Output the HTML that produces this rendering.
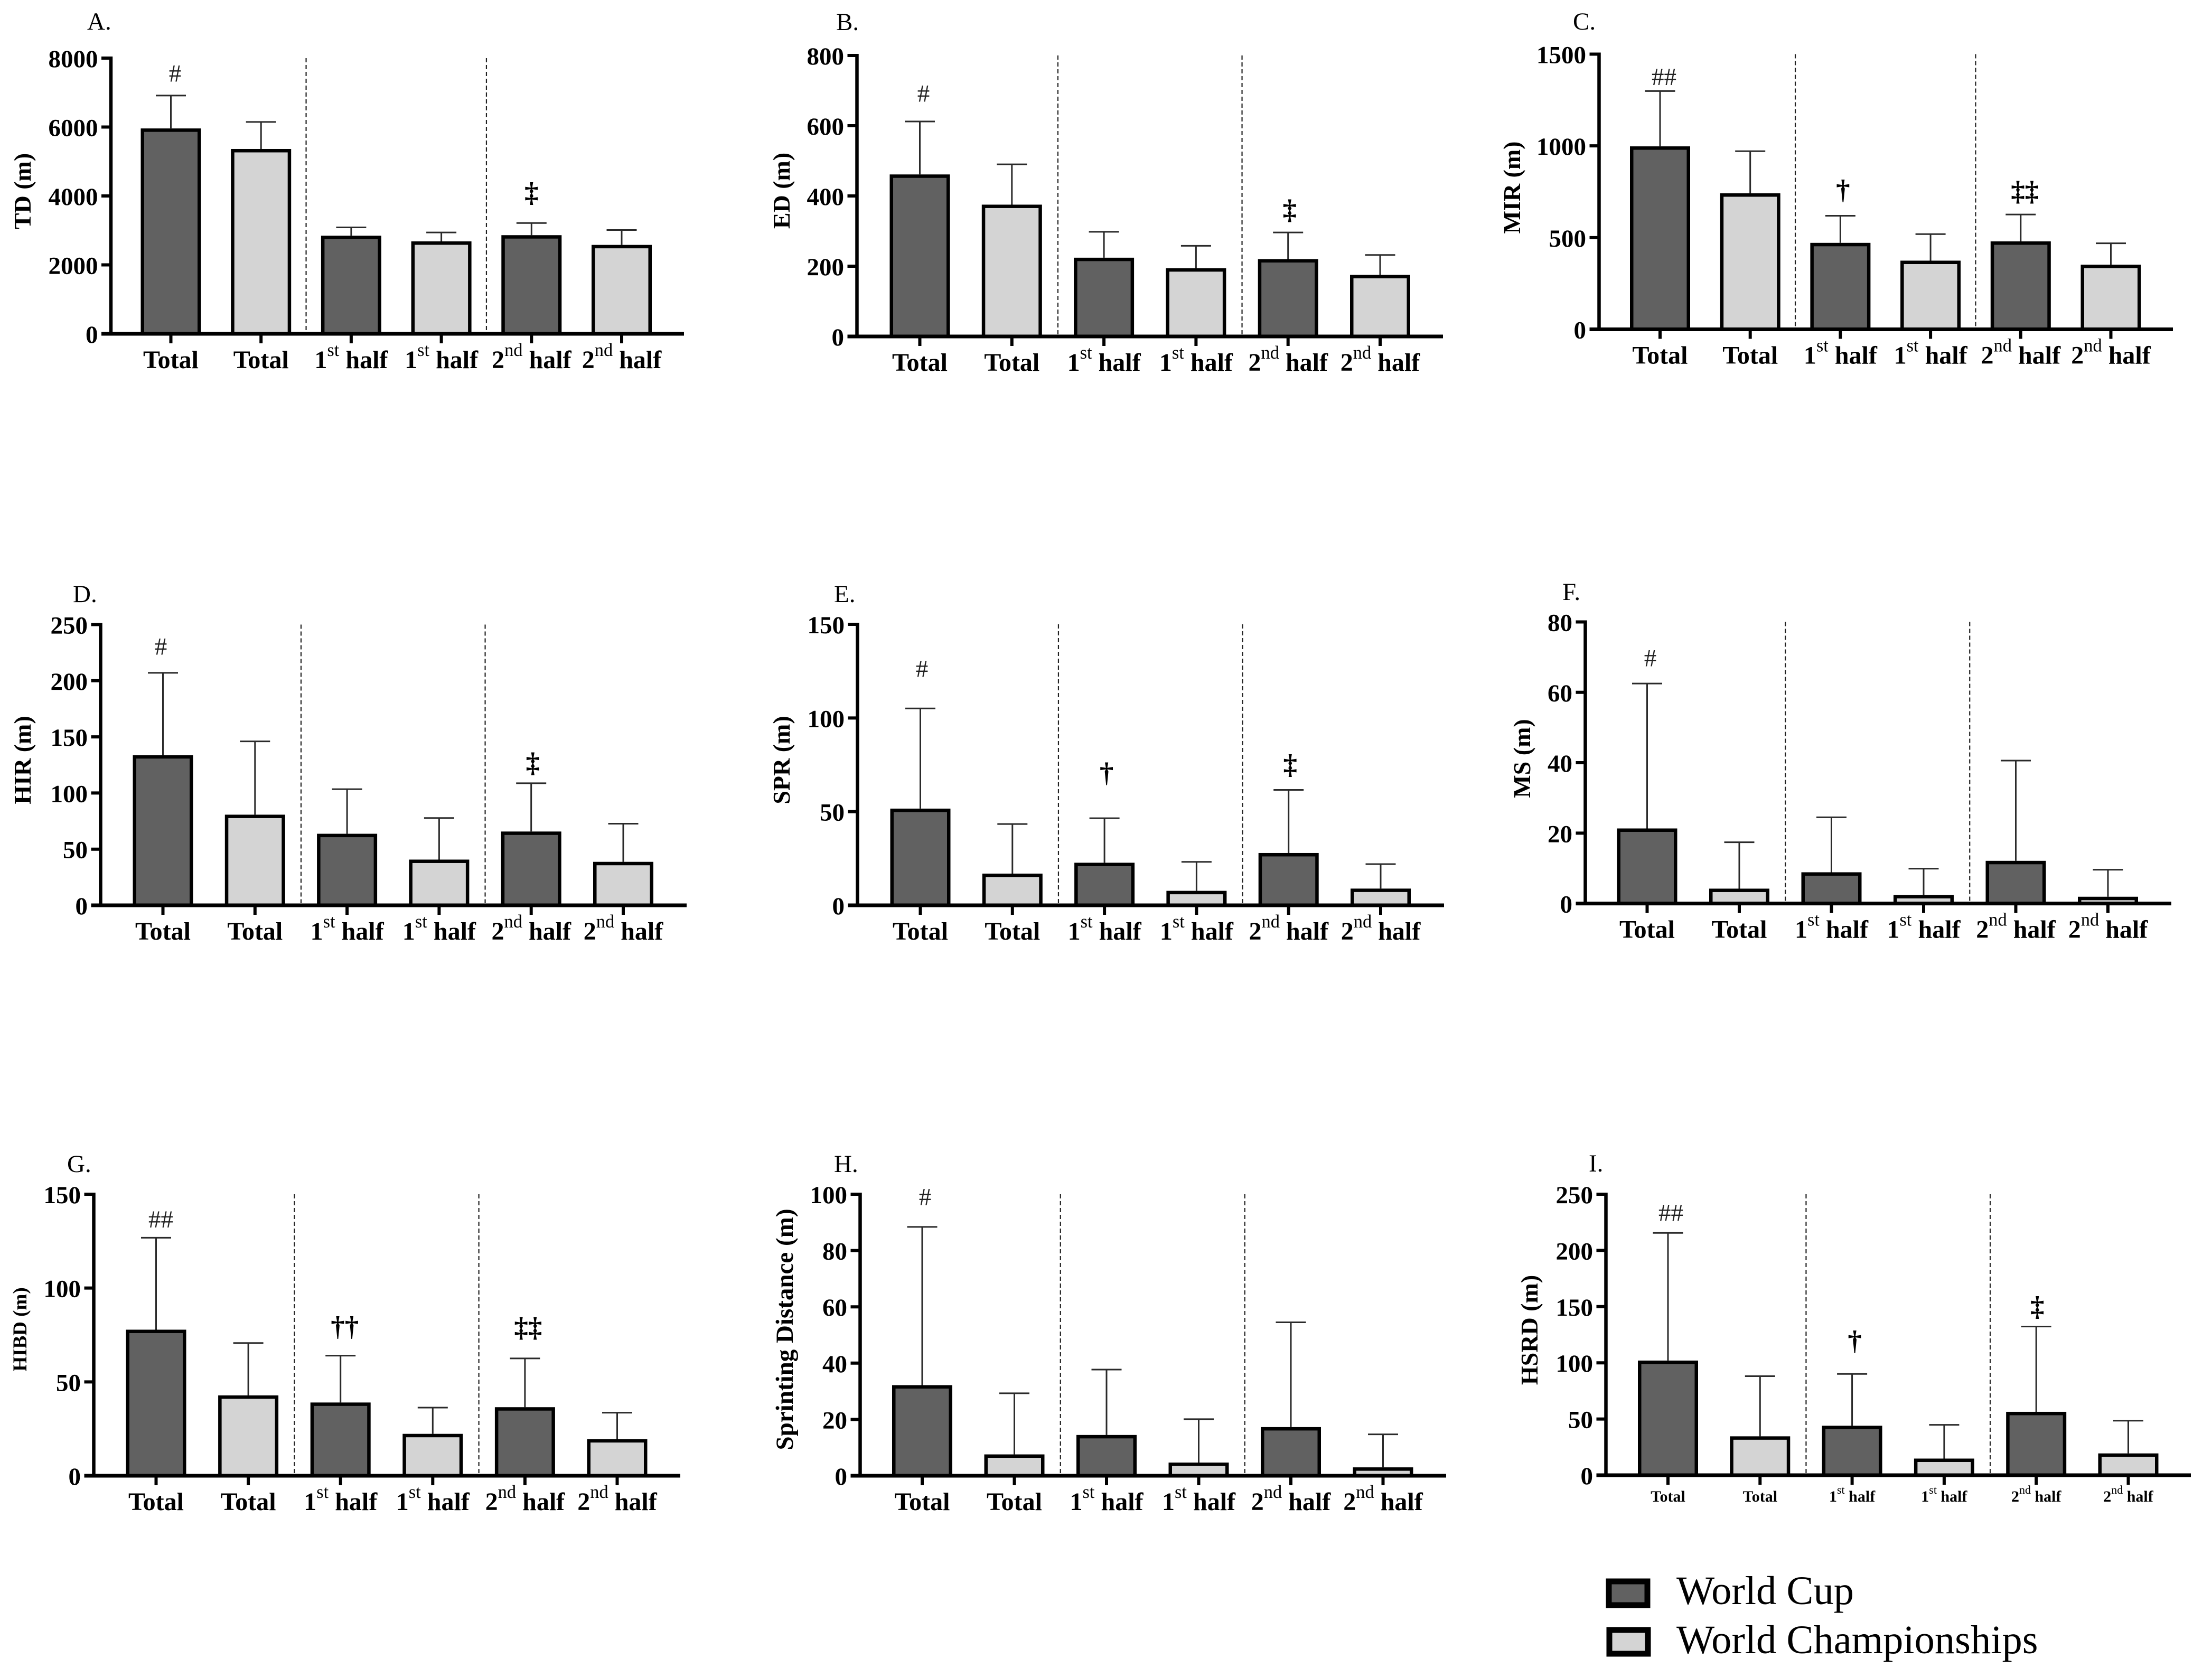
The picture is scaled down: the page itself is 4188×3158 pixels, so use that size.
<!DOCTYPE html>
<html lang="en">
<head>
<meta charset="utf-8">
<title>World Cup vs World Championships physical performance</title>
<style>
html,body{margin:0;padding:0;background:#fff;}
svg{display:block;}
text{font-family:"Liberation Serif",serif;fill:#000;}
</style>
</head>
<body>
<svg id="figure" xmlns="http://www.w3.org/2000/svg" width="4188" height="3158" viewBox="0 0 4188 3158">
  <rect width="4188" height="3158" fill="#fff"/>
  <g>
    <rect x="3046" y="2994" width="73" height="45" fill="#616161" stroke="#000" stroke-width="11"/>
    <text x="3174" y="3037" font-size="76.5">World Cup</text>
    <rect x="3047" y="3086" width="73" height="45" fill="#d4d4d4" stroke="#000" stroke-width="11"/>
    <text x="3174" y="3130" font-size="76.5">World Championships</text>
  </g>
</svg>
<script>
const categories = ['Total', 'Total', '1st half', '1st half', '2nd half', '2nd half'];

const tdValues = [5936, 5341, 2823, 2659, 2839, 2557];
const tdErrorTops = [6913, 6147, 3089, 2940, 3214, 3011];
const tdTicks = [0, 2000, 4000, 6000, 8000];

const edValues = [459, 373, 222, 192, 218, 173];
const edErrorTops = [612, 490, 298, 258, 296, 232];
const edTicks = [0, 200, 400, 600, 800];

const mirValues = [993, 737, 467, 370, 475, 348];
const mirErrorTops = [1299, 971, 619, 519, 626, 469];
const mirTicks = [0, 500, 1000, 1500];

const hirValues = [133, 80, 63, 40, 65, 38];
const hirErrorTops = [207, 146, 103.4, 77.7, 108.7, 72.7];
const hirTicks = [0, 50, 100, 150, 200, 250];

const sprValues = [51.2, 16.5, 22.3, 7.3, 27.5, 8.5];
const sprErrorTops = [105.1, 43.4, 46.5, 23.2, 61.6, 22];
const sprTicks = [0, 50, 100, 150];

const msValues = [21.1, 4, 8.65, 2.2, 11.9, 1.7];
const msErrorTops = [62.5, 17.4, 24.5, 9.9, 40.6, 9.6];
const msTicks = [0, 20, 40, 60, 80];

const hibdValues = [77.4, 42.4, 38.6, 21.9, 36.1, 19.1];
const hibdErrorTops = [126.8, 70.7, 64, 36.3, 62.5, 33.6];
const hibdTicks = [0, 50, 100, 150];

const sprintValues = [31.9, 7.3, 14.2, 4.4, 17, 2.7];
const sprintErrorTops = [88.4, 29.3, 37.7, 20.1, 54.5, 14.7];
const sprintTicks = [0, 20, 40, 60, 80, 100];

const hsrdValues = [101.3, 33.9, 43.3, 14.1, 55.7, 18.7];
const hsrdErrorTops = [215.6, 88.1, 90.1, 44.8, 132.3, 48.5];
const hsrdTicks = [0, 50, 100, 150, 200, 250];

const barFills = ['#616161', '#d4d4d4'];

const panels = [
  {id:'a', letter:'A.', title:'TD (m)', values:tdValues, errs:tdErrorTops, ticks:tdTicks,
   ax:210, top:110, base:632, x0:323.5, step:170.7, end:1295, lx:165, ly:56, tx:58, ty:362, tf:46,
   notes:[{i:0,s:'#',dx:8,gap:42},{i:4,s:'‡',dx:0,gap:55}]},
  {id:'b', letter:'B.', title:'ED (m)', values:edValues, errs:edErrorTops, ticks:edTicks,
   ax:1622.5, top:105, base:637, x0:1741.5, step:174.3, end:2732, lx:1583, ly:57, tx:1495, ty:361, tf:46,
   notes:[{i:0,s:'#',dx:7,gap:53},{i:4,s:'‡',dx:3,gap:40}]},
  {id:'c', letter:'C.', title:'MIR (m)', values:mirValues, errs:mirErrorTops, ticks:mirTicks,
   ax:3027.5, top:102.5, base:623.5, x0:3143, step:170.7, end:4114, lx:2978, ly:56, tx:2878, ty:355, tf:46,
   notes:[{i:0,s:'##',dx:7.5,gap:27},{i:2,s:'†',dx:5,gap:46},{i:4,s:'‡‡',dx:8,gap:41}]},
  {id:'d', letter:'D.', title:'HIR (m)', values:hirValues, errs:hirErrorTops, ticks:hirTicks,
   ax:190.5, top:1182.5, base:1714, x0:308.5, step:174.3, end:1300, lx:138, ly:1140, tx:58, ty:1439, tf:46,
   notes:[{i:0,s:'#',dx:-4,gap:50},{i:4,s:'‡',dx:3,gap:36}]},
  {id:'e', letter:'E.', title:'SPR (m)', values:sprValues, errs:sprErrorTops, ticks:sprTicks,
   ax:1623.5, top:1182, base:1714, x0:1742.5, step:174.3, end:2734, lx:1579, ly:1140, tx:1495, ty:1439, tf:46,
   notes:[{i:0,s:'#',dx:3,gap:75},{i:2,s:'†',dx:4,gap:83},{i:4,s:'‡',dx:3,gap:45}]},
  {id:'f', letter:'F.', title:'MS (m)', values:msValues, errs:msErrorTops, ticks:msTicks,
   ax:3001.5, top:1177.5, base:1710.6, x0:3118.5, step:174.5, end:4111, lx:2958, ly:1136, tx:2897, ty:1436, tf:46,
   notes:[{i:0,s:'#',dx:6,gap:48}]},
  {id:'g', letter:'G.', title:'HIBD (m)', values:hibdValues, errs:hibdErrorTops, ticks:hibdTicks,
   ax:177.5, top:2261, base:2794, x0:295.5, step:174.6, end:1288, lx:127, ly:2219, tx:50, ty:2517, tf:37,
   notes:[{i:0,s:'##',dx:9,gap:35},{i:2,s:'††',dx:8,gap:52},{i:4,s:'‡‡',dx:6,gap:56}]},
  {id:'h', letter:'H.', title:'Sprinting Distance (m)', values:sprintValues, errs:sprintErrorTops, ticks:sprintTicks,
   ax:1628.5, top:2261, base:2794, x0:1746, step:174.5, end:2738, lx:1579, ly:2219, tx:1501, ty:2517, tf:47,
   notes:[{i:0,s:'#',dx:5.5,gap:57}]},
  {id:'i', letter:'I.', title:'HSRD (m)', values:hsrdValues, errs:hsrdErrorTops, ticks:hsrdTicks,
   ax:3040.5, top:2261, base:2793, x0:3158, step:174.3, end:4148, lx:3008, ly:2218, tx:2911, ty:2518, tf:46, smallX:true,
   notes:[{i:0,s:'##',dx:5.5,gap:38},{i:2,s:'†',dx:5,gap:60},{i:4,s:'‡',dx:2,gap:35}]}
];

const SVG_NS = 'http://www.w3.org/2000/svg';
const figure = document.getElementById('figure');

function make(tag, parent, props) {
  const el = document.createElementNS(SVG_NS, tag);
  for (const k in props) el.setAttribute(k, props[k]);
  parent.appendChild(el);
  return el;
}

function yScale(p, v) {
  return p.base - (v / p.ticks[p.ticks.length - 1]) * (p.base - p.top);
}

function xScale(p, i) {
  return p.x0 + i * p.step;
}

panels.forEach(function (p) {
  const g = make('g', figure, {});
  
  

  const letter = make('text', g, {x: p.lx, y: p.ly, 'font-size': 47});
  
  
  letter.textContent = p.letter;

  const yTitle = make('text', g, {
    transform: 'translate(' + p.tx + ',' + p.ty + ') rotate(-90)',
    'text-anchor': 'middle', 'font-size': p.tf, 'font-weight': 'bold'
  });
  
  
  yTitle.textContent = p.title;

  [1.5, 3.5].forEach(function (pos) {
    const xd = xScale(p, pos);
    const div = make('line', g, {
      x1: xd, x2: xd, y1: p.top, y2: p.base - 4,
      stroke: '#222', 'stroke-width': 2.2, 'stroke-dasharray': '8 5'
    });
    
    
  });

  p.values.forEach(function (v, i) {
    const cx = xScale(p, i);
    const yErr = yScale(p, p.errs[i]);
    const yVal = yScale(p, v) - 1.5;

    const stem = make('line', g, {x1: cx, x2: cx, y1: yErr, y2: yVal, stroke: '#2a2a2a', 'stroke-width': 3});
    
    

    const cap = make('line', g, {x1: cx - 28.5, x2: cx + 28.5, y1: yErr, y2: yErr, stroke: '#2a2a2a', 'stroke-width': 3});
    
    

    const bar = make('rect', g, {
      x: cx - 53.75, y: yVal + 3.25, width: 107.5, height: Math.max(0, p.base - yVal - 3.25),
      fill: barFills[i % 2], stroke: '#000', 'stroke-width': 6.5
    });
    
    

    const tick = make('line', g, {x1: cx, x2: cx, y1: p.base, y2: p.base + 18, stroke: '#000', 'stroke-width': 6});
    
    

    const fs = p.smallX ? 30 : 48;
    const supFs = p.smallX ? 22 : 34.5;
    const raise = p.smallX ? 15 : 23;
    const lab = make('text', g, {
      x: cx, y: p.base + (p.smallX ? 50 : 65), 'text-anchor': 'middle',
      'font-size': fs, 'font-weight': 'bold'
    });
    
    
    const m = categories[i].match(/^(\d)(st|nd)( half)$/);
    if (m) {
      lab.appendChild(document.createTextNode(m[1]));
      const sup = make('tspan', lab, {dy: -raise, 'font-size': supFs, 'font-weight': 'normal'});
      sup.textContent = m[2];
      const rest = make('tspan', lab, {dy: raise});
      rest.textContent = m[3];
      rest.setAttribute('xml:space', 'preserve');
      rest.style.whiteSpace = 'pre';
    } else {
      lab.textContent = categories[i];
    }
  });

  const xAxis = make('line', g, {x1: p.ax - 18, x2: p.end, y1: p.base, y2: p.base, stroke: '#000', 'stroke-width': 7});
  
  

  const yAxis = make('line', g, {x1: p.ax, x2: p.ax, y1: p.top - 3, y2: p.base, stroke: '#000', 'stroke-width': 6.5});
  
  

  p.ticks.forEach(function (t) {
    const yt = yScale(p, t);
    const tick = make('line', g, {x1: p.ax - 18, x2: p.ax, y1: yt, y2: yt, stroke: '#000', 'stroke-width': 6});
    
    

    const lab = make('text', g, {
      x: p.ax - 24.5, y: yt + 17, 'text-anchor': 'end', 'font-size': 47, 'font-weight': 'bold'
    });
    
    
    lab.textContent = String(t);
  });

  p.notes.forEach(function (n) {
    const cy = yScale(p, p.errs[n.i]) - n.gap;
    const isHash = n.s.charAt(0) === '#';
    const note = make('text', g, {
      x: xScale(p, n.i) + n.dx,
      y: cy + (isHash ? 15.5 : 14.5),
      'text-anchor': 'middle',
      'font-size': isHash ? 47 : 53,
      'font-weight': isHash ? 'normal' : 'bold'
    });
    note.style.fill = isHash ? '#222' : '#000';
    
    
    note.textContent = n.s;
  });
});
</script>
</body>
</html>
